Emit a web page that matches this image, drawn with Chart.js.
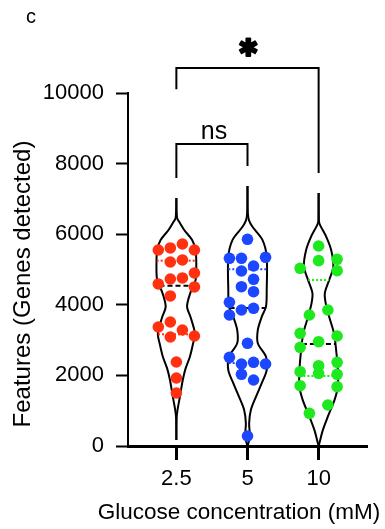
<!DOCTYPE html>
<html>
<head>
<meta charset="utf-8">
<script src="https://cdn.jsdelivr.net/npm/chart.js@4.4.1/dist/chart.umd.min.js"></script>
<style>
  html, body { margin: 0; padding: 0; background: #fff; }
  #wrap { width: 385px; height: 529px; position: relative; }
</style>
</head>
<body>
<div id="wrap"><canvas id="chart"></canvas></div>
<script>
// --- data ---
const groups = ['2.5', '5', '10'];          // glucose, mM
const colors = ['#ff3110', '#1a47ff', '#1ee81e'];

// genes detected per cell
const values25 = [5553, 5610, 5723, 5553, 5213, 5270, 4590, 4731, 4760, 4901,
                  4505, 4250, 3513, 3371, 3286, 3088, 3116, 2380, 1926, 1501];
const jitter25 = [-0.254, -0.085, 0.085, 0.254, -0.085, 0.085, -0.254, -0.085, 0.085, 0.254,
                  0.254, -0.085, -0.085, -0.254, 0.085, -0.085, 0.254, 0, 0, 0];

const values5 = [5856, 5318, 5318, 5346, 4958, 5099, 4723, 4513, 4371, 4071, 3711,
                 3853, 3901, 2909, 2513, 2323, 2371, 2323, 2031, 1870, 283];
const jitter5 = [0, -0.254, -0.085, 0.254, -0.085, 0.085, 0.085, -0.085, 0.085, -0.254, -0.254,
                 -0.085, 0.085, 0, -0.254, -0.085, 0.085, 0.254, -0.085, 0.085, 0];

const values10 = [5666, 5250, 5289, 5034, 4966, 3853, 3711, 3193, 3116, 2796,
                  2955, 2371, 2275, 2105, 2060, 2031, 1708, 1680, 1162, 926];
const jitter10 = [0, 0, 0.26, -0.26, 0.26, 0.13, -0.13, -0.26, 0.26, -0.26,
                  0, 0.26, 0, -0.26, 0, 0.26, -0.26, 0.26, 0.13, -0.13];

// violin outlines: [value, half width in x units]
const violin25 = [[7025, 0], [6460, 0.01], [6350, 0.04], [6120, 0.11], [5840, 0.22], [5550, 0.27],
                  [5130, 0.28], [4700, 0.27], [4360, 0.2], [3950, 0.15], [3650, 0.2], [3190, 0.26],
                  [2860, 0.23], [2530, 0.19], [2200, 0.13], [1870, 0.09], [1400, 0.05], [1020, 0.016],
                  [800, 0.004], [170, 0]];
const violin5 = [[7365, 0], [6600, 0.005], [6400, 0.02], [6210, 0.07], [5840, 0.21], [5360, 0.27],
                 [4420, 0.27], [3950, 0.26], [3660, 0.2], [3290, 0.145], [2910, 0.145], [2530, 0.26],
                 [2150, 0.27], [1780, 0.2], [1400, 0.12], [1020, 0.047], [640, 0.023], [260, 0.033],
                 [0, 0]];
const violin10 = [[7167, 0], [6500, 0.003], [6310, 0.01], [5930, 0.106], [5550, 0.176], [5080, 0.207],
                  [4700, 0.148], [4330, 0.087], [4040, 0.1], [3660, 0.148], [3190, 0.216], [2720, 0.246],
                  [2150, 0.27], [1680, 0.27], [1300, 0.223], [830, 0.129], [450, 0.059], [76, 0.01],
                  [0, 0]];

// [q1, median, q3]
const quart25 = [3164, 4542, 5250];
const quart5 = [2350, 3910, 5010];
const quart10 = [1980, 2890, 4700];

// significance brackets (corner points) and their labels
const bracketNs = [[1, 7592], [1, 8556], [2, 8556], [2, 7932]];
const bracketStar = [[1, 10105], [1, 10709], [3, 10709], [3, 7734]];
const labelNs = [1.53, 8689];
const labelStar = [2.01, 11219];

const allValues = [values25, values5, values10];
const allJitter = [jitter25, jitter5, jitter10];
const allViolins = [violin25, violin5, violin10];
const allQuart = [quart25, quart5, quart10];

// half width of a violin outline at a given value (linear between read points)
function halfWidthAt(outline, v) {
  for (let i = 0; i < outline.length - 1; i++) {
    const [v0, w0] = outline[i], [v1, w1] = outline[i + 1];
    if (v <= v0 && v >= v1) return w0 + (w1 - w0) * (v0 - v) / (v0 - v1);
  }
  return 0;
}

const datasets = [];

// dots on top
allValues.forEach((vals, g) => {
  datasets.push({
    data: vals.map((v, i) => ({ x: g + 1 + allJitter[g][i], y: v })),
    backgroundColor: colors[g],
    borderWidth: 0,
    pointRadius: 5.8,
    order: 0,
    clip: false
  });
});

// median + quartile lines
allQuart.forEach((q, g) => {
  q.forEach((v, k) => {
    const w = halfWidthAt(allViolins[g], v);
    datasets.push({
      data: [{ x: g + 1 - w, y: v }, { x: g + 1 + w, y: v }],
      showLine: true,
      borderColor: k === 1 ? '#000' : colors[g],
      borderWidth: 2,
      borderDash: k === 1 ? [5, 3] : [2, 2],
      pointRadius: 0,
      order: 1,
      clip: false
    });
  });
});

// violin outlines, one dataset per side
allViolins.forEach((outline, g) => {
  [1, -1].forEach(side => {
    datasets.push({
      data: outline.map(([v, w]) => ({ x: g + 1 + side * w, y: v })),
      showLine: true,
      tension: 0.3,
      borderColor: '#000',
      borderWidth: 2,
      pointRadius: 0,
      order: 2,
      clip: false
    });
  });
});

// brackets
[bracketNs, bracketStar].forEach(b => {
  datasets.push({
    data: b.map(([x, y]) => ({ x, y })),
    showLine: true,
    borderColor: '#000',
    borderWidth: 2,
    borderCapStyle: 'butt',
    pointRadius: 0,
    order: 2,
    clip: false
  });
});

const FONT = '"Liberation Sans", Arial, Helvetica, sans-serif';

const textPlugin = {
  id: 'textPlugin',
  afterDatasetsDraw(chart) {
    const { ctx, scales: { x, y } } = chart;
    ctx.save();
    ctx.fillStyle = '#000';
    ctx.strokeStyle = '#000';
    ctx.textAlign = 'center';
    ctx.textBaseline = 'alphabetic';
    ctx.font = '25px ' + FONT;
    ctx.fillText('ns', x.getPixelForValue(labelNs[0]), y.getPixelForValue(labelNs[1]));

    // heavy asterisk
    ctx.textBaseline = 'middle';
    ctx.font = 'bold 24px "DejaVu Sans"';
    ctx.lineWidth = 2;
    ctx.lineJoin = 'round';
    const sx = x.getPixelForValue(labelStar[0]), sy = y.getPixelForValue(labelStar[1]);
    ctx.strokeText('\u2731', sx, sy);
    ctx.fillText('\u2731', sx, sy);

    // axis titles
    ctx.textBaseline = 'alphabetic';
    ctx.font = '22.5px ' + FONT;
    ctx.fillText('Glucose concentration (mM)', 239, 519);

    ctx.save();
    ctx.translate(30, 284);
    ctx.rotate(-Math.PI / 2);
    ctx.font = '24px ' + FONT;
    ctx.fillText('Features (Genes detected)', 0, 0);
    ctx.restore();

    // panel letter
    ctx.textAlign = 'left';
    ctx.font = '20px ' + FONT;
    ctx.fillText('c', 26, 23);
    ctx.restore();
  }
};

new Chart(document.getElementById('chart'), {
  type: 'scatter',
  data: { datasets },
  options: {
    responsive: true,
    maintainAspectRatio: false,
    animation: false,
    layout: { padding: { top: 93, right: 18, bottom: 0, left: 0 } },
    plugins: { legend: { display: false }, tooltip: { enabled: false } },
    scales: {
      x: {
        type: 'linear',
        min: 0.32,
        max: 3.68,
        afterBuildTicks: (s) => { s.ticks = [1, 2, 3].map(v => ({ value: v })); },
        afterFit: (s) => { s.height = 83; },
        ticks: {
          callback: (v) => groups[v - 1],
          color: '#000',
          font: { family: FONT, size: 22 },
          padding: 6,
          maxRotation: 0
        },
        grid: { drawOnChartArea: false, drawTicks: true, tickLength: 14, tickWidth: 3, tickColor: '#000' },
        border: { color: '#000', width: 3 },
        title: { display: false }
      },
      y: {
        min: 0,
        max: 10000,
        afterFit: (s) => { s.width = 128; },
        ticks: {
          stepSize: 2000,
          callback: (v) => String(v),
          color: '#000',
          font: { family: FONT, size: 22 },
          padding: 12
        },
        grid: { drawOnChartArea: false, drawTicks: true, tickLength: 12, tickWidth: 2, tickColor: '#000' },
        border: { color: '#000', width: 2 },
        title: { display: false }
      }
    }
  },
  plugins: [textPlugin]
});
</script>
</body>
</html>
